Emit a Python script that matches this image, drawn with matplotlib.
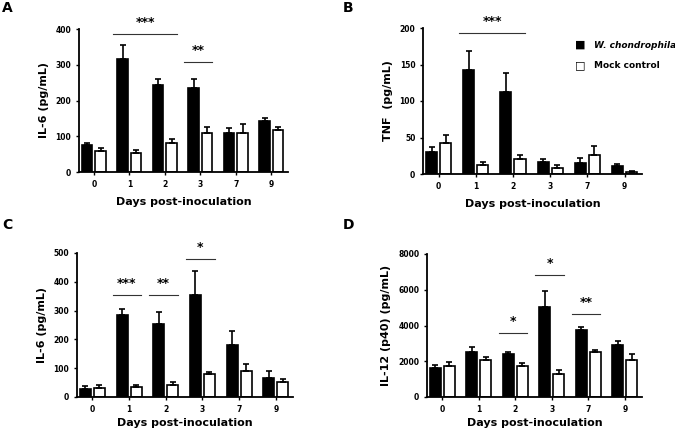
import matplotlib
matplotlib.use("Agg")
import matplotlib.pyplot as plt
import numpy as np

days = ["0", "1", "2", "3", "7", "9"]

# panel A: IL-6
a_wc = [75, 315, 243, 234, 110, 142]
a_wc_err = [7, 40, 18, 25, 13, 10]
a_mock = [60, 52, 80, 110, 110, 117]
a_mock_err = [7, 9, 13, 15, 25, 8]

# panel B: TNF
b_wc = [30, 142, 113, 16, 15, 11]
b_wc_err = [7, 26, 26, 4, 7, 3]
b_mock = [43, 13, 21, 8, 26, 3]
b_mock_err = [10, 3, 5, 5, 12, 1]

# panel C: IL-6
c_wc = [29, 283, 252, 353, 182, 65]
c_wc_err = [8, 23, 44, 84, 47, 24]
c_mock = [32, 36, 43, 80, 90, 52]
c_mock_err = [8, 7, 8, 8, 23, 12]

# panel D: IL-12 (p40)
d_wc = [1650, 2530, 2420, 5040, 3750, 2890]
d_wc_err = [150, 260, 70, 900, 150, 260]
d_mock = [1760, 2060, 1760, 1270, 2510, 2080]
d_mock_err = [210, 190, 170, 230, 130, 300]

# significance bars: (first day idx, last day idx, line y, stars)
a_sig = [(1, 2, 385, "***"), (3, 3, 309, "**")]
b_sig = [(1, 2, 193, "***")]
c_sig = [(1, 1, 353, "***"), (2, 2, 353, "**"), (3, 3, 479, "*")]
d_sig = [(2, 2, 3600, "*"), (3, 3, 6850, "*"), (4, 4, 4650, "**")]

fig = plt.figure(figsize=(6.75, 4.3), dpi=100)
W, H = 675.0, 430.0


def panel(rect, wc, wc_err, mock, mock_err, ymax, ystep, ylabel, sig, label, lx, ly, xpad):
    l, t, r, b = rect
    ax = fig.add_axes([l / W, 1 - b / H, (r - l) / W, (b - t) / H])
    x = np.arange(len(days))
    w = 0.3
    ax.bar(x - 0.19, wc, w, color="black", edgecolor="black", linewidth=1.2,
           yerr=[np.zeros(len(wc)), wc_err], error_kw=dict(ecolor="black", elinewidth=1.2, capsize=2.5, capthick=1.2))
    ax.bar(x + 0.19, mock, w, color="white", edgecolor="black", linewidth=1.2,
           yerr=[np.zeros(len(mock)), mock_err], error_kw=dict(ecolor="black", elinewidth=1.2, capsize=2.5, capthick=1.2))
    ax.set_xlim(-0.42, 5.47)
    ax.set_ylim(0, ymax)
    ax.set_yticks(np.arange(0, ymax + 1, ystep))
    ax.set_xticks(x)
    ax.set_xticklabels(days)
    for s in ["top", "right"]:
        ax.spines[s].set_visible(False)
    for s in ["left", "bottom"]:
        ax.spines[s].set_linewidth(1.3)
    ax.tick_params(axis="both", length=2.5, width=1, labelsize=5.5, pad=3)
    for t_ in ax.get_xticklabels() + ax.get_yticklabels():
        t_.set_fontweight("bold")
    ax.set_xlabel("Days post-inoculation", fontsize=8, fontweight="bold", labelpad=xpad)
    ax.set_ylabel(ylabel, fontsize=8, fontweight="bold", labelpad=5)
    for i0, i1, y, stars in sig:
        ax.plot([i0 - 0.45, i1 + 0.33], [y, y], color="#333333", lw=0.8, clip_on=False)
        ax.text((i0 + i1) / 2 - 0.06, y + ymax * 0.035, stars, ha="center", va="bottom",
                fontsize=9, fontweight="bold", clip_on=False)
    fig.text(lx / W, 1 - ly / H, label, fontsize=10, fontweight="bold", va="center", ha="left")
    return ax


panel((79, 29, 288, 172), a_wc, a_wc_err, a_mock, a_mock_err, 400, 100,
      "IL-6 (pg/mL)", a_sig, "A", 2, 8, 6)
panel((423, 28, 642, 174), b_wc, b_wc_err, b_mock, b_mock_err, 200, 50,
      "TNF  (pg/mL)", b_sig, "B", 343, 8, 6)
panel((77, 253, 293, 397), c_wc, c_wc_err, c_mock, c_mock_err, 500, 100,
      "IL-6 (pg/mL)", c_sig, "C", 2, 225, 3)
panel((427, 254, 642, 397), d_wc, d_wc_err, d_mock, d_mock_err, 8000, 2000,
      "IL-12 (p40) (pg/mL)", d_sig, "D", 343, 225, 3)

# legend
fig.text(580 / W, 1 - 45 / H, "\u25A0", fontsize=8, va="center", ha="center")
fig.text(580 / W, 1 - 65 / H, "\u25A1", fontsize=8, va="center", ha="center")
fig.text(594 / W, 1 - 45 / H, "W. chondrophila", fontsize=6.5, fontweight="bold",
         style="italic", va="center", ha="left")
fig.text(594 / W, 1 - 65 / H, "Mock control", fontsize=6.5, fontweight="bold",
         va="center", ha="left")

fig.savefig("out.png", dpi=100)
